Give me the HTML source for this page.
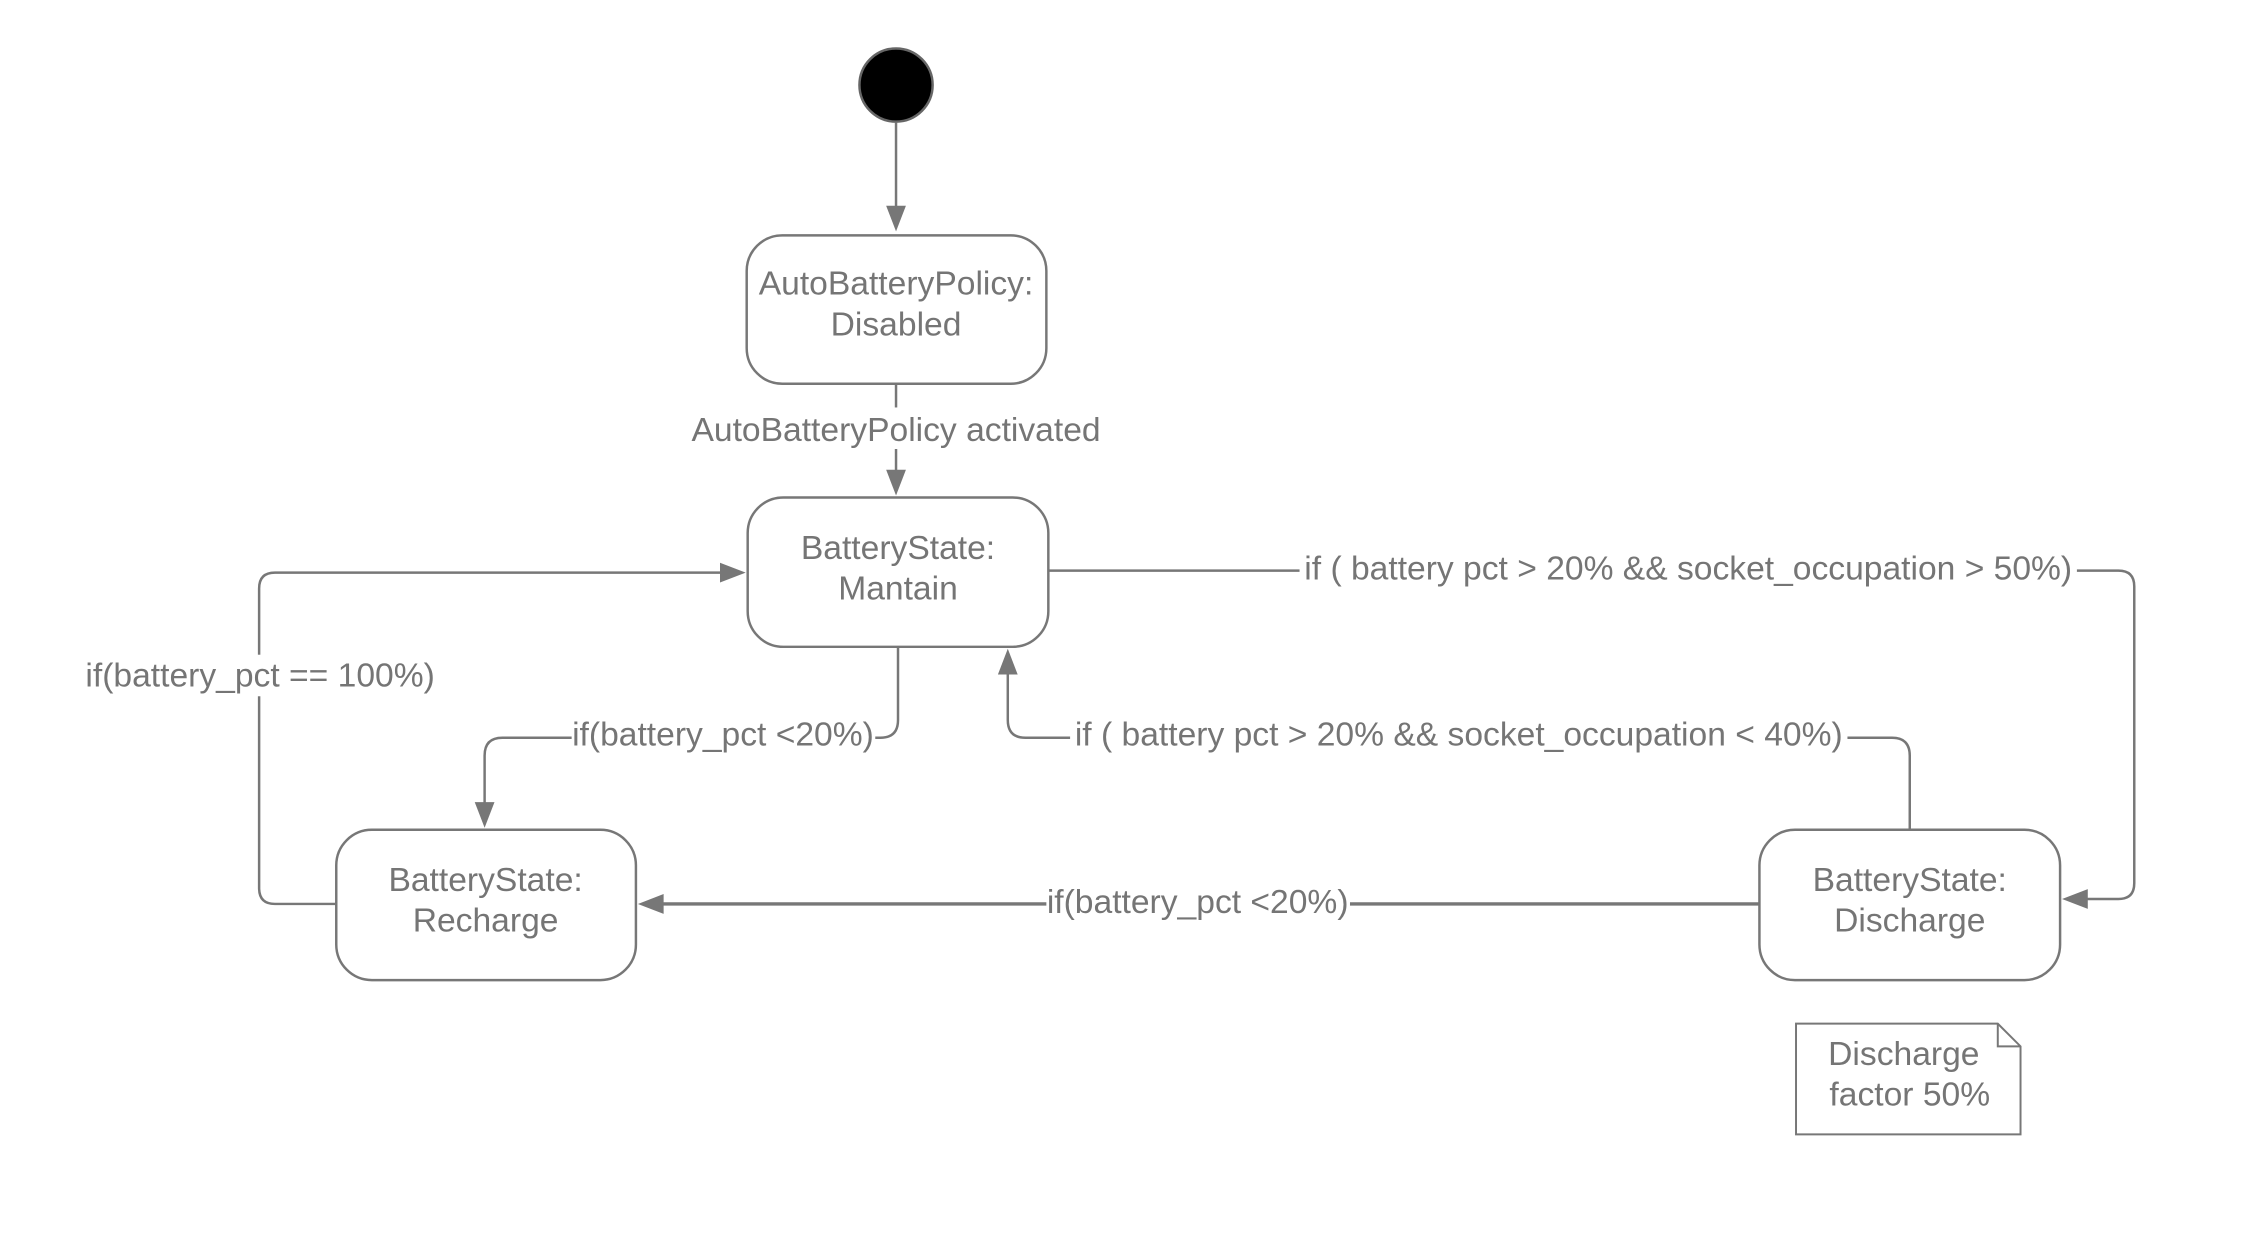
<!DOCTYPE html>
<html><head><meta charset="utf-8"><style>html,body{margin:0;padding:0;background:#fff}svg{display:block}text{font-family:"Liberation Sans",Arial,sans-serif;fill:#757575;font-size:34px}</style></head>
<body>
<svg width="2259" height="1253" viewBox="0 0 2259 1253" xmlns="http://www.w3.org/2000/svg">
<g transform="scale(0.989)">
<g fill="none" stroke="#777" stroke-width="2.5">
<circle cx="906" cy="86" r="37" fill="#000" stroke="#666"/>
<line x1="906" y1="124" x2="906" y2="210"/>
<rect x="755" y="238" width="303" height="150" rx="36" fill="#fff"/>
<rect x="756" y="503" width="304" height="151" rx="36" fill="#fff"/>
<rect x="340" y="839" width="303" height="152" rx="36" fill="#fff"/>
<rect x="1779" y="839" width="304" height="152" rx="36" fill="#fff"/>
<path d="M1816,1035 H2020 L2043,1058 V1147 H1816 Z" fill="#fff" stroke-width="2"/>
<path d="M2020,1035 V1058 H2043" stroke-width="2"/>
<line x1="906" y1="388" x2="906" y2="480"/>
<path d="M1060,577 H2142 Q2158,577 2158,593 V893 Q2158,909 2142,909 H2105"/>
<path d="M340,914 H278 Q262,914 262,898 V595 Q262,579 278,579 H735"/>
<path d="M908,654 V728 Q908,746 890,746 H508 Q490,746 490,764 V815"/>
<path d="M1931,839 V764 Q1931,746 1913,746 H1037 Q1019,746 1019,728 V676"/>
<path d="M1779,914 H665" stroke-width="3.5"/>
</g>
<g fill="#777">
<path d="M896,208 L916,208 L906,234 z"/>
<path d="M896,475 L916,475 L906,501 z"/>
<path d="M728,569 L728,589 L754,579 z"/>
<path d="M2111,899 L2111,919 L2085,909 z"/>
<path d="M480,811 L500,811 L490,837 z"/>
<path d="M1009,682 L1029,682 L1019,656 z"/>
<path d="M671,904 L671,924 L645,914 z"/>
</g>
<g fill="#fff">
<rect x="696" y="412" width="420" height="42"/>
<rect x="1314" y="554" width="786" height="42"/>
<rect x="84" y="662" width="358" height="42"/>
<rect x="578" y="722" width="307" height="42"/>
<rect x="1082" y="722" width="786" height="42"/>
<rect x="1058" y="891" width="307" height="42"/>
</g>
<g text-anchor="middle">
<text x="906" y="298">AutoBatteryPolicy:</text>
<text x="906" y="339">Disabled</text>
<text x="908" y="565">BatteryState:</text>
<text x="908" y="606">Mantain</text>
<text x="491" y="901">BatteryState:</text>
<text x="491" y="942">Recharge</text>
<text x="1931" y="901">BatteryState:</text>
<text x="1931" y="942">Discharge</text>
<text x="1925" y="1077">Discharge</text>
<text x="1931" y="1118">factor 50%</text>
<text x="906" y="446">AutoBatteryPolicy activated</text>
<text x="1707" y="586">if ( battery pct &gt; 20% &amp;&amp; socket_occupation &gt; 50%)</text>
<text x="263" y="694">if(battery_pct == 100%)</text>
<text x="731" y="754">if(battery_pct &lt;20%)</text>
<text x="1475" y="754">if ( battery pct &gt; 20% &amp;&amp; socket_occupation &lt; 40%)</text>
<text x="1211" y="923">if(battery_pct &lt;20%)</text>
</g>
</g>
</svg>
</body></html>
